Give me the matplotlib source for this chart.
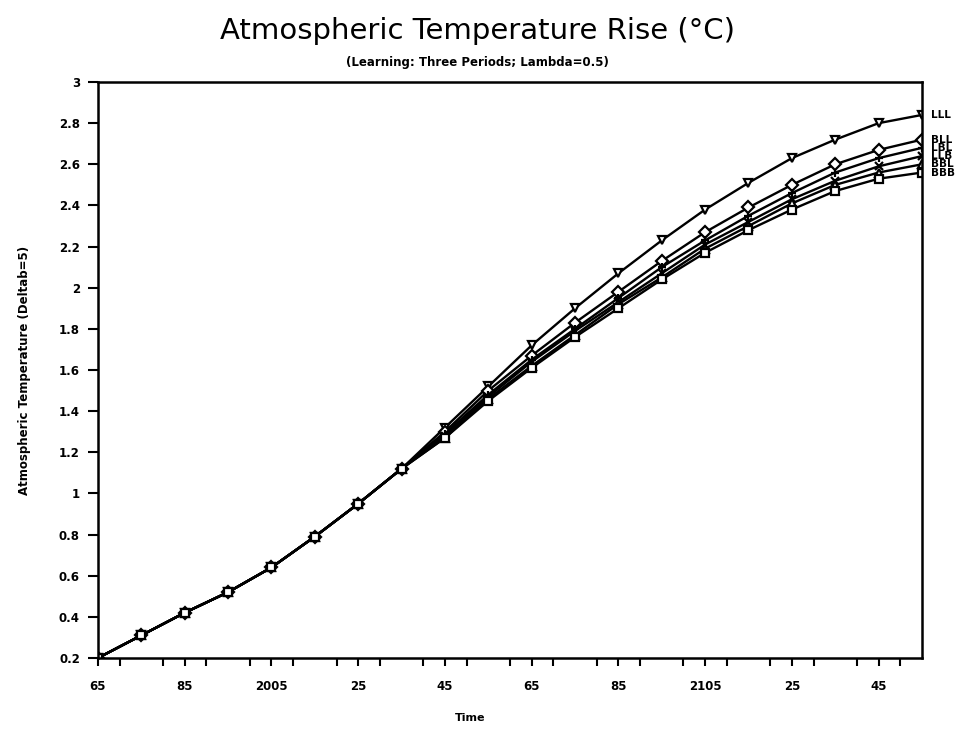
import matplotlib
matplotlib.use("Agg")
import matplotlib.pyplot as plt
from matplotlib.ticker import FixedLocator, MultipleLocator

years = [1965, 1975, 1985, 1995, 2005, 2015, 2025, 2035, 2045, 2055,
         2065, 2075, 2085, 2095, 2105, 2115, 2125, 2135, 2145, 2155]

series_names = ["LLL", "BLL", "LBL", "LLB", "BBL", "BBB"]

s_lll = [0.20, 0.31, 0.42, 0.52, 0.64, 0.79, 0.95, 1.12, 1.32, 1.52,
         1.72, 1.90, 2.07, 2.23, 2.38, 2.51, 2.63, 2.72, 2.80, 2.84]
s_bll = [0.20, 0.31, 0.42, 0.52, 0.64, 0.79, 0.95, 1.12, 1.30, 1.50,
         1.67, 1.83, 1.98, 2.13, 2.27, 2.39, 2.50, 2.60, 2.67, 2.72]
s_lbl = [0.20, 0.31, 0.42, 0.52, 0.64, 0.79, 0.95, 1.12, 1.29, 1.48,
         1.65, 1.80, 1.95, 2.10, 2.23, 2.35, 2.46, 2.56, 2.63, 2.68]
s_llb = [0.20, 0.31, 0.42, 0.52, 0.64, 0.79, 0.95, 1.12, 1.28, 1.47,
         1.64, 1.79, 1.93, 2.07, 2.21, 2.32, 2.43, 2.52, 2.59, 2.64]
s_bbl = [0.20, 0.31, 0.42, 0.52, 0.64, 0.79, 0.95, 1.12, 1.27, 1.46,
         1.62, 1.77, 1.92, 2.05, 2.19, 2.30, 2.41, 2.50, 2.56, 2.60]
s_bbb = [0.20, 0.31, 0.42, 0.52, 0.64, 0.79, 0.95, 1.12, 1.27, 1.45,
         1.61, 1.76, 1.90, 2.04, 2.17, 2.28, 2.38, 2.47, 2.53, 2.56]

x_tick_years = [1965, 1985, 2005, 2025, 2045, 2065, 2085, 2105, 2125, 2145]
x_tick_labels = ["65", "85", "2005", "25", "45", "65", "85", "2105", "25", "45"]

title = "Atmospheric Temperature Rise (°C)"
subtitle = "(Learning: Three Periods; Lambda=0.5)"
ylabel = "Atmospheric Temperature (Deltab=5)"
xlabel = "Time"

all_series = [s_lll, s_bll, s_lbl, s_llb, s_bbl, s_bbb]
markers = ["v", "D", "+", "x", "^", "s"]

fig = plt.figure(figsize=(9.55, 7.35), dpi=100)
ax = fig.add_axes([0.1026, 0.1048, 0.8628, 0.7836])

for name, vals, mk in zip(series_names, all_series, markers):
    ax.plot(years, vals, color="black", lw=1.7, marker=mk, markersize=6,
            markerfacecolor="white", markeredgecolor="black", markeredgewidth=1.6)
    ax.text(2157, vals[-1], name, fontsize=7.5, fontweight="bold",
            va="center", ha="left", clip_on=False)

ax.set_xlim(1965, 2155)
ax.set_ylim(0.2, 3.0)
ax.xaxis.set_major_locator(FixedLocator(x_tick_years))
ax.set_xticklabels(x_tick_labels)
ax.xaxis.set_minor_locator(MultipleLocator(10))
ax.yaxis.set_major_locator(MultipleLocator(0.2))
ax.yaxis.set_major_formatter(plt.FuncFormatter(
    lambda v, p: f"{int(round(v))}" if abs(v - round(v)) < 1e-9 else f"{v:.1f}"))

ax.tick_params(axis="both", which="both", direction="out", width=1.5, color="black")
ax.tick_params(axis="x", which="both", length=6, pad=10)
ax.tick_params(axis="y", which="major", length=7, pad=6)
for lab in ax.get_xticklabels() + ax.get_yticklabels():
    lab.set_fontweight("bold")
    lab.set_fontsize(8.5)
for sp in ax.spines.values():
    sp.set_linewidth(1.8)

fig.text(0.50, 0.958, title, ha="center", va="center", fontsize=21)
fig.text(0.50, 0.915, subtitle, ha="center", va="center", fontsize=8.5, fontweight="bold")
ax.set_xlabel(xlabel, fontsize=8, fontweight="bold")
ax.xaxis.set_label_coords(0.452, -0.095)
ax.set_ylabel(ylabel, fontsize=8.5, fontweight="bold", labelpad=20)

fig.savefig("out.png", dpi=100)
